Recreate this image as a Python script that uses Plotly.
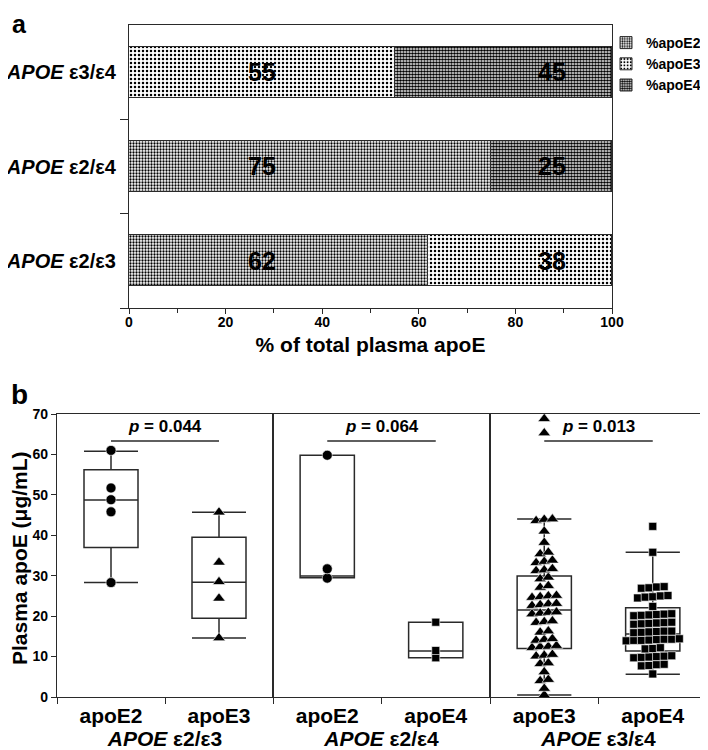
import plotly.graph_objects as go

# ---- panel a: share of total plasma apoE per genotype (bottom to top)
genotypes = ["<i>APOE</i> ε2/ε3", "<i>APOE</i> ε2/ε4", "<i>APOE</i> ε3/ε4"]
pct_apoE2 = [62, 75, 0]
pct_apoE3 = [38, 0, 55]
pct_apoE4 = [0, 25, 45]
pct_ticks = [0, 20, 40, 60, 80, 100]

# ---- panel b: plasma apoE (ug/mL) per isoform
group_labels = ["<i>APOE</i> ε2/ε3", "<i>APOE</i> ε2/ε4", "<i>APOE</i> ε3/ε4"]
isoform_labels = [["apoE2", "apoE3"], ["apoE2", "apoE4"], ["apoE3", "apoE4"]]
p_values = ["0.044", "0.064", "0.013"]

e23_apoE2 = [61.0, 51.7, 48.8, 45.8, 28.3]
e23_apoE3 = [45.7, 33.3, 28.5, 24.4, 14.6]
e24_apoE2 = [59.8, 31.7, 29.4]
e24_apoE4 = [18.5, 11.5, 9.7]
e34_apoE3 = [68.8, 65.3,
             43.6, 43.9, 44.0, 41.0, 38.2, 35.4, 35.8, 33.2, 33.5, 33.8,
             31.2, 31.4, 31.7, 29.2, 29.6, 27.1, 27.5, 24.6, 24.8, 25.0, 25.1,
             22.6, 22.8, 23.0, 23.1, 20.5, 20.7, 20.9, 21.0, 18.4, 18.6, 18.8,
             16.0, 16.3, 14.0, 14.2, 14.4, 12.2, 12.4, 12.5, 12.7, 10.1, 10.3,
             10.5, 8.2, 8.4, 6.2, 4.0, 4.3, 2.1, 0.5]
e34_apoE4 = [42.2, 35.8, 26.9, 27.0, 27.2, 27.3, 24.5, 24.7, 24.8, 25.0, 25.1,
             22.4, 20.1, 20.2, 20.3, 20.4, 20.5, 20.6, 18.0, 18.1, 18.2, 18.3,
             18.4, 18.5, 15.9, 16.0, 16.1, 16.2, 16.3, 16.3, 13.9, 14.0, 14.0,
             14.1, 14.2, 14.3, 14.3, 14.4, 11.9, 12.0, 12.2, 9.7, 9.8, 9.9,
             10.0, 10.1, 10.2, 7.7, 7.8, 8.0, 8.1, 5.7]
points = [[e23_apoE2, e23_apoE3], [e24_apoE2, e24_apoE4], [e34_apoE3, e34_apoE4]]

# box statistics as drawn in the figure
box_low = [[28.3, 14.6], [29.5, 9.7], [0.5, 5.6]]
box_q1 = [[37.0, 19.5], [29.5, 9.7], [12.0, 11.4]]
box_med = [[48.7, 28.4], [29.9, 11.4], [21.5, 15.6]]
box_q3 = [[56.2, 39.5], [59.8, 18.5], [29.9, 22.1]]
box_high = [[60.8, 45.7], [59.8, 18.5], [44.0, 35.8]]

FONT = "Liberation Sans, Arial, sans-serif"
NARROW = "Liberation Sans Narrow, Arial Narrow, Liberation Sans, sans-serif"
LINE = "#2a2a2a"
symbols = {"apoE2": "circle", "apoE3": "triangle-up", "apoE4": "square"}
sizes = {"apoE2": 10, "apoE3": 11, "apoE4": 8}
spacing = {"apoE2": 0.08, "apoE3": 0.075, "apoE4": 0.07}

# page layout in screen pixels; the page body adds an 8 px offset
W, H = 708, 750
OX, OY = 8, 8


def fx(x):
    return (x - OX) / W


def fy(y):
    return 1 - (y - OY) / H


def swarm(values, step):
    # GraphPad-like rows: close values share a row and spread sideways
    vals = sorted(values)
    rows = []
    for v in vals:
        if rows and v - rows[-1][0] <= 1.0:
            rows[-1].append(v)
        else:
            rows.append([v])
    xs, ys = [], []
    for row in rows:
        k = len(row)
        for i, v in enumerate(row):
            xs.append((i - (k - 1) / 2) * step)
            ys.append(v)
    return xs, ys


fig = go.Figure()

patterns = [
    ("%apoE2", pct_apoE2, dict(shape=".", size=3, solidity=0.45)),
    ("%apoE3", pct_apoE3, dict(shape=".", size=4, solidity=0.3)),
    ("%apoE4", pct_apoE4, dict(shape=".", size=3, solidity=0.65)),
]
for name, vals, pat in patterns:
    pat.update(fgcolor="black", bgcolor="white")
    fig.add_trace(go.Bar(
        y=[0, 1, 2], x=vals, orientation="h", name=name, width=0.54,
        marker=dict(color="white", pattern=pat, line=dict(color=LINE, width=1)),
        xaxis="x", yaxis="y", hoverinfo="skip"))

# value labels inside the bars
label_x = [27.5, 87.5]
annotations = []
for r in range(3):
    shown = [v for v in (pct_apoE2[r], pct_apoE3[r], pct_apoE4[r]) if v > 0]
    for j, v in enumerate(shown):
        annotations.append(dict(x=label_x[j], y=r, xref="x", yref="y", text=f"<b>{v}</b>",
                                showarrow=False, font=dict(family=NARROW, size=25, color="black")))

# panel b traces
for g in range(3):
    xa, ya = f"x{g + 2}", f"y{g + 2}"
    for i in range(2):
        iso = isoform_labels[g][i]
        fig.add_trace(go.Box(
            x=[i], q1=[box_q1[g][i]], median=[box_med[g][i]], q3=[box_q3[g][i]],
            lowerfence=[box_low[g][i]], upperfence=[box_high[g][i]],
            width=0.5, whiskerwidth=1, boxpoints=False, fillcolor="rgba(0,0,0,0)",
            line=dict(color=LINE, width=1.5), xaxis=xa, yaxis=ya, showlegend=False,
            hoverinfo="skip"))
        xs, ys = swarm(points[g][i], spacing[iso])
        fig.add_trace(go.Scatter(
            x=[i + dx for dx in xs], y=ys, mode="markers", cliponaxis=False,
            marker=dict(symbol=symbols[iso], size=sizes[iso], color="black",
                        line=dict(color="white", width=0.6)),
            xaxis=xa, yaxis=ya, showlegend=False, hoverinfo="skip"))
    # significance bracket and p value
    fig.add_shape(type="line", x0=0, x1=1, y0=63.3, y1=63.3, xref=xa, yref=ya,
                  line=dict(color=LINE, width=1.5))
    annotations.append(dict(x=0.5, y=66.8, xref=xa, yref=ya, showarrow=False,
                            text=f"<b><i>p</i> = {p_values[g]}</b>",
                            font=dict(family=FONT, size=17, color="black")))

annotations += [
    dict(x=fx(10), y=1.0, xref="paper", yref="paper", xanchor="left", yanchor="top",
         text="<b>a</b>", showarrow=False, font=dict(family=FONT, size=25, color="black")),
    dict(x=fx(9), y=fy(394), xref="paper", yref="paper", xanchor="left", yanchor="middle",
         text="<b>b</b>", showarrow=False, font=dict(family=FONT, size=28, color="black")),
    dict(x=fx(19), y=fy(558), xref="paper", yref="paper", textangle=-90, showarrow=False,
         xanchor="center", yanchor="middle",
         text="<b>Plasma apoE (μg/mL)</b>", font=dict(family=FONT, size=21, color="black")),
]

axis_common = dict(showline=True, mirror=True, linecolor=LINE, linewidth=1.2,
                   showgrid=False, zeroline=False, tickcolor=LINE)

layout = dict(
    width=W, height=H, margin=dict(l=0, r=0, t=0, b=0),
    template="none", paper_bgcolor="white", plot_bgcolor="white",
    barmode="stack", bargap=0, showlegend=True,
    font=dict(family=FONT, color="black"),
    legend=dict(x=fx(606), y=fy(27), xanchor="left", yanchor="top", traceorder="normal",
                bgcolor="rgba(0,0,0,0)", itemwidth=30, tracegroupgap=0,
                font=dict(family=FONT, size=14, color="black", weight="bold")),
    xaxis=dict(axis_common, domain=[fx(129), fx(612)], range=[0, 100], anchor="y",
               tickvals=pct_ticks, ticks="outside", ticklen=5, ticklabelstandoff=-4,
               tickfont=dict(family=NARROW, size=14, color="black", weight="bold"),
               minor=dict(tickvals=[10, 30, 50, 70, 90], ticks="outside", ticklen=4,
                          tickcolor=LINE),
               title=dict(text="% of total plasma apoE", standoff=8,
                          font=dict(family=NARROW, size=21, color="black", weight="bold"))),
    yaxis=dict(axis_common, domain=[fy(308), fy(25)], range=[-0.5, 2.5], anchor="x",
               tickvals=[0, 1, 2], ticktext=genotypes, ticks="", ticklabelstandoff=8,
               tickfont=dict(family=FONT, size=20, color="black", weight="bold"),
               minor=dict(tickvals=[-0.5, 0.5, 1.5], ticks="outside", ticklen=8,
                          tickcolor=LINE)),
    annotations=annotations,
)

sub_edges = [57, 273, 490, 707]
for g in range(3):
    n = g + 2
    layout[f"xaxis{n}"] = dict(
        axis_common, domain=[fx(sub_edges[g]), fx(sub_edges[g + 1])], range=[-0.5, 1.5],
        anchor=f"y{n}", tickvals=[0, 1], ticktext=isoform_labels[g], ticks="",
        tickfont=dict(family=FONT, size=21, color="black", weight="bold"),
        minor=dict(tickvals=[-0.5, 0.5, 1.5], ticks="outside", ticklen=6, tickcolor=LINE),
        title=dict(text=group_labels[g], standoff=0,
                   font=dict(family=FONT, size=21, color="black", weight="bold")))
    yax = dict(axis_common, domain=[fy(697), fy(414)], range=[0, 70], anchor=f"x{n}")
    if g == 0:
        yax.update(tickvals=list(range(0, 71, 10)), ticks="outside", ticklen=5,
                   tickfont=dict(family=FONT, size=14, color="black", weight="bold"))
    else:
        yax.update(matches="y2", showticklabels=False, ticks="")
    layout[f"yaxis{n}"] = yax

fig.update_layout(layout)
fig.write_html("out.html")
